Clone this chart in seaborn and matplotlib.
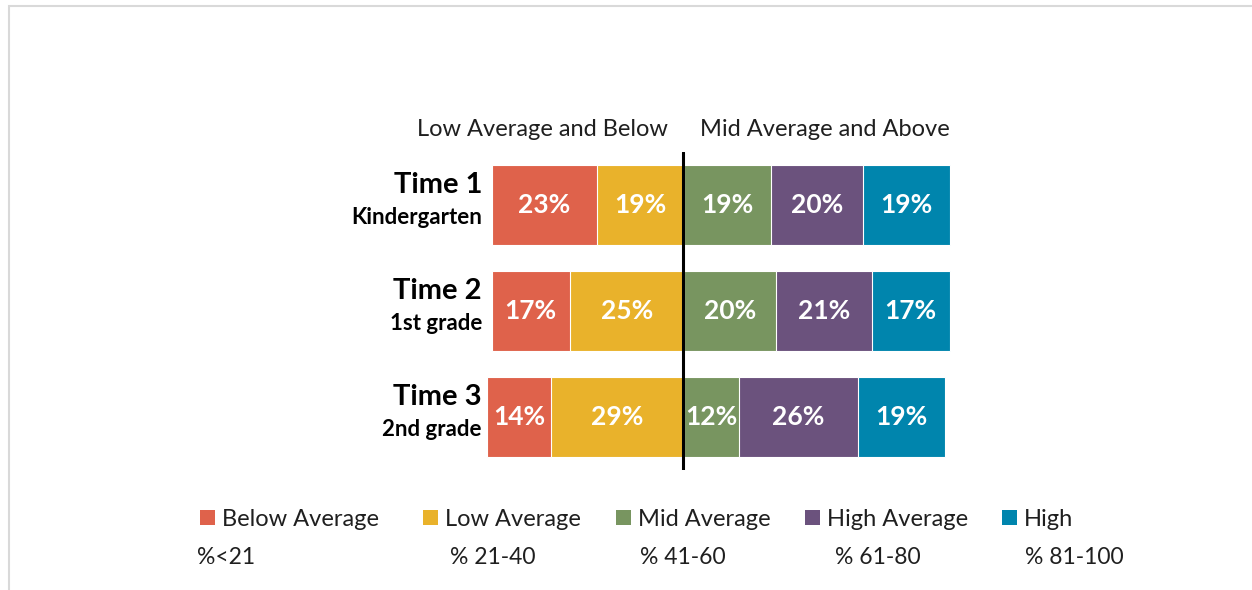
import matplotlib
matplotlib.use("Agg")
import matplotlib.pyplot as plt
from matplotlib.patches import Patch, Rectangle
import numpy as np
import pandas as pd
import seaborn as sns

# Survey waves and score bands
times = ["Time 1", "Time 2", "Time 3"]
grades = ["Kindergarten", "1st grade", "2nd grade"]
levels = ["Below Average", "Low Average", "Mid Average", "High Average", "High"]
ranges = ["%<21", "% 21-40", "% 41-60", "% 61-80", "% 81-100"]

# Percent of students in each band
below_avg = [23, 17, 14]
low_avg = [19, 25, 29]
mid_avg = [19, 20, 12]
high_avg = [20, 21, 26]
high = [19, 17, 19]

colors = ["#DF624B", "#E9B22B", "#789560", "#6B527D", "#0085AD"]

sns.set_theme(style="white")
plt.rcParams["font.family"] = ["Lato", "DejaVu Sans"]

W, H = 1252, 590
zero_px, scale = 684, 4.58
fig = plt.figure(figsize=(W / 100, H / 100), dpi=100)
ax = fig.add_axes([(zero_px - 50 * scale) / W, 1 - 470 / H,
                   120 * scale / W, 318 / H])

ba = np.array(below_avg)
la = np.array(low_avg)
ma = np.array(mid_avg)
ha = np.array(high_avg)
hi = np.array(high)

# Diverging stack: lower bands extend left of zero, upper bands to the right.
# Cumulative bars are drawn largest first so each band shows on top.
layers = [
    (-(ba + la), colors[0]),
    (-la, colors[1]),
    (ma + ha + hi, colors[4]),
    (ma + ha, colors[3]),
    (ma, colors[2]),
]
for ends, col in layers:
    df = pd.DataFrame({"time": times, "value": ends})
    sns.barplot(data=df, x="value", y="time", orient="h", color=col,
                width=0.755, errorbar=None, edgecolor="white", linewidth=0.8,
                saturation=1, ax=ax)

# Value labels at the middle of each band
segments = [
    (-la - ba / 2, ba),
    (-la / 2, la),
    (ma / 2, ma),
    (ma + ha / 2, ha),
    (ma + ha + hi / 2, hi),
]
for centers, vals in segments:
    for i, (c, v) in enumerate(zip(centers, vals)):
        ax.text(c, i, f"{v}%", ha="center", va="center", color="white",
                fontsize=19, fontweight="bold")

ax.axvline(-0.2, color="black", lw=2.2)
ax.set_xlim(-50, 70)
ax.set_ylim(2.5, -0.5)
ax.set_xlabel("")
ax.set_ylabel("")
ax.set_xticks([])
ax.set_yticks([])
for s in ax.spines.values():
    s.set_visible(False)

# Row labels
lab_x = (482 - zero_px) / scale
for i, (t, g) in enumerate(zip(times, grades)):
    ax.text(lab_x, i - 0.113, t, ha="right", va="baseline",
            fontsize=21, fontweight="bold", color="black")
    ax.text(lab_x, i + 0.18, g, ha="right", va="baseline",
            fontsize=16, fontweight="bold", color="black")

# Side headings
ax.text(-3.5, -0.651, "Low Average and Below", ha="right", va="baseline",
        fontsize=17, color="#1F1F1F")
ax.text(3.5, -0.651, "Mid Average and Above", ha="left", va="baseline",
        fontsize=17, color="#1F1F1F")

# Legend entries with their score ranges underneath
legend_x = [200, 423, 616, 805, 1002]
range_x = [197, 450, 640, 835, 1025]
for lvl, col, lx in zip(levels, colors, legend_x):
    fig.legend(handles=[Patch(facecolor=col, edgecolor="none", label=lvl)],
               loc="center left", bbox_to_anchor=(lx / W, 1 - 519 / H),
               frameon=False, fontsize=17, handlelength=0.62, handleheight=0.62,
               handletextpad=0.3, borderpad=0, borderaxespad=0,
               labelcolor="#1F1F1F")
for r, rx in zip(ranges, range_x):
    fig.text(rx / W, 1 - 558 / H, r, ha="left", va="center",
             fontsize=16.5, color="#1F1F1F")

# Thin frame along the top and left
fig.add_artist(Rectangle((9 / W, -0.1), 1.2, 1.1 - 6 / H,
                         transform=fig.transFigure, fill=False,
                         edgecolor="#D9D9D9", lw=1.5))

fig.savefig("out.png", dpi=100)
